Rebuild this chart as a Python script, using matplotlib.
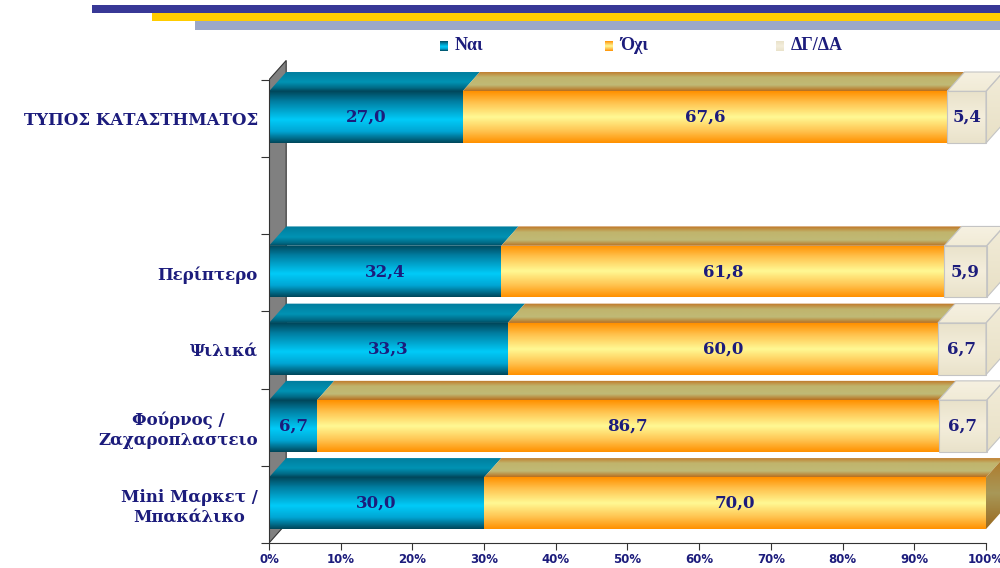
import numpy as np
import matplotlib.pyplot as plt
from matplotlib.patches import Polygon, Rectangle
from matplotlib.colors import to_rgb

# data (top row first)
categories = ['ΤΥΠΟΣ ΚΑΤΑΣΤΗΜΑΤΟΣ', '', 'Περίπτερο', 'Ψιλικά',
              'Φούρνος /\nΖαχαροπλαστειο', 'Mini Μαρκετ /\nΜπακάλικο']
nai = [27.0, 0.0, 32.4, 33.3, 6.7, 30.0]
oxi = [67.6, 0.0, 61.8, 60.0, 86.7, 70.0]
dgda = [5.4, 0.0, 5.9, 6.7, 6.7, 0.0]
series_names = ['Ναι', 'Όχι', 'ΔΓ/ΔΑ']
xticks = np.arange(0, 101, 10)

NAVY = '#1C1C7C'
DX, DY = 2.4, 0.25   # 3d depth offset in data units


def grad(stops, n=64):
    t = np.linspace(0, 1, n)
    pos = [s[0] for s in stops]
    cols = np.array([to_rgb(s[1]) for s in stops])
    arr = np.stack([np.interp(t, pos, cols[:, k]) for k in range(3)], axis=-1)
    return arr[:, None, :]


styles = [
    dict(front=grad([(0, '#00485C'), (0.2, '#007FA3'), (0.55, '#00CBF8'),
                     (0.78, '#00A6D4'), (1, '#00485C')]),
         top=grad([(0, '#007C9C'), (0.55, '#0093B4'), (0.85, '#006A86'), (1, '#004A5E')]),
         side=grad([(0, '#006A86'), (1, '#004A5E')]),
         edge=None),
    dict(front=grad([(0, '#FF9100'), (0.22, '#FFC24E'), (0.5, '#FFF994'),
                     (0.78, '#FFC24E'), (1, '#FF9100')]),
         top=grad([(0, '#C07424'), (0.3, '#C0B46C'), (0.7, '#C0BA76'), (1, '#B87020')]),
         side=grad([(0, '#B07828'), (0.5, '#A89858'), (1, '#9A6A20')]),
         edge=None),
    dict(front=grad([(0, '#E9E2CA'), (0.5, '#F4EEDC'), (1, '#E9E2CA')]),
         top=grad([(0, '#F6F1E2'), (1, '#F1EBD6')]),
         side=grad([(0, '#F2ECD8'), (1, '#E8E0C6')]),
         edge='#C4C4C4'),
]


def face(ax, verts, g, edge=None):
    xs = [v[0] for v in verts]
    ys = [v[1] for v in verts]
    poly = Polygon(verts, closed=True, facecolor='none',
                   edgecolor=edge if edge else 'none', lw=0.8, zorder=3)
    ax.add_patch(poly)
    im = ax.imshow(g, extent=[min(xs), max(xs), min(ys), max(ys)],
                   aspect='auto', origin='upper', interpolation='bilinear', zorder=2)
    im.set_clip_path(poly)


fig = plt.figure(figsize=(10, 5.68), dpi=100)

# header stripes
fig.patches.append(Rectangle((0.092, 1 - 13 / 568), 1, 8 / 568, transform=fig.transFigure,
                             facecolor='#383896', edgecolor='none'))
fig.patches.append(Rectangle((0.152, 1 - 21 / 568), 1, 8 / 568, transform=fig.transFigure,
                             facecolor='#FFCC00', edgecolor='none'))
fig.patches.append(Rectangle((0.195, 1 - 30 / 568), 1, 9 / 568, transform=fig.transFigure,
                             facecolor='#9CA8C8', edgecolor='none'))

ax = fig.add_axes([0.269, 0.044, 0.7385, 0.870])
ax.patch.set_visible(False)

nrows = len(categories)
# left wall
ax.add_patch(Polygon([(0, 0), (0, nrows), (DX, nrows + DY), (DX, DY)], closed=True,
                     facecolor='#808080', edgecolor='#333333', lw=0.8, zorder=1))

for i, cat in enumerate(categories):
    base = nrows - 1 - i
    y0, y1 = base + 0.18, base + 0.85
    vals = [nai[i], oxi[i], dgda[i]]
    if sum(vals) == 0:
        continue
    last = max(k for k, v in enumerate(vals) if v > 0)
    x = 0.0
    for k, v in enumerate(vals):
        if v <= 0:
            continue
        st = styles[k]
        x0, x1 = x, x + v
        # front
        face(ax, [(x0, y0), (x1, y0), (x1, y1), (x0, y1)], st['front'], st['edge'])
        # top
        face(ax, [(x0, y1), (x1, y1), (x1 + DX, y1 + DY), (x0 + DX, y1 + DY)], st['top'], st['edge'])
        if k == last:
            face(ax, [(x1, y0), (x1 + DX, y0 + DY), (x1 + DX, y1 + DY), (x1, y1)], st['side'], st['edge'])
        ax.text((x0 + x1) / 2, (y0 + y1) / 2, f'{v:.1f}'.replace('.', ','),
                ha='center', va='center', color=NAVY, fontsize=12,
                fontweight='bold', family='DejaVu Serif', zorder=5)
        x = x1

ax.set_xlim(0, 103)
ax.set_ylim(0, 6.4)
for s in ['top', 'right']:
    ax.spines[s].set_visible(False)
ax.spines['left'].set_bounds(0, nrows)
ax.spines['bottom'].set_bounds(0, 100)
ax.spines['left'].set_color('#333333')
ax.spines['bottom'].set_color('#333333')

ax.set_yticks(np.arange(0, nrows + 1))
ax.set_yticklabels([])
ax.set_yticks(np.arange(nrows) + 0.5, minor=True)
ax.set_yticklabels(categories[::-1], minor=True, fontsize=12, fontweight='bold',
                   family='DejaVu Serif', color=NAVY, multialignment='center')
ax.tick_params(axis='y', which='major', length=6, color='#333333', direction='out')
ax.tick_params(axis='y', which='minor', length=0, pad=8)

ax.set_xticks(xticks)
ax.set_xticklabels([f'{t}%' for t in xticks], fontsize=8.5, fontweight='bold', color=NAVY)
ax.tick_params(axis='x', length=5, color='#333333', pad=2)

# legend
leg_x = [0.440, 0.605, 0.776]
for k, name in enumerate(series_names):
    sw = fig.add_axes([leg_x[k], 1 - 51 / 568, 0.008, 10 / 568])
    sw.imshow(styles[k]['front'], aspect='auto', interpolation='bilinear')
    sw.set_axis_off()
    fig.text(leg_x[k] + 0.015, 1 - 45 / 568, name, ha='left', va='center',
             fontsize=13, fontweight='bold', family='Liberation Serif', color=NAVY)

fig.savefig('out.png', dpi=100)
